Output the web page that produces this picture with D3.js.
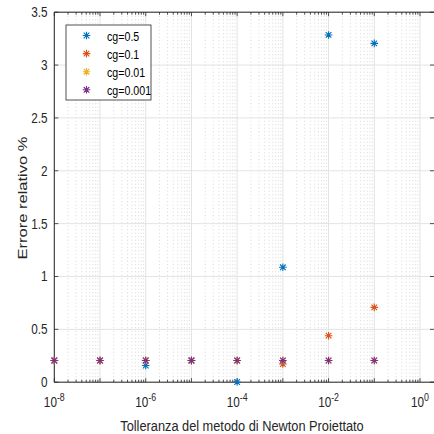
<!DOCTYPE html>
<html>
<head>
<meta charset="utf-8">
<script src="https://cdn.jsdelivr.net/npm/d3@7"></script>
<style>
  html, body { margin: 0; padding: 0; background: #fff; }
  svg { display: block; font-family: "Liberation Sans", Arial, Helvetica, sans-serif; }
</style>
</head>
<body>
<svg id="chart" width="434" height="434"></svg>
<script>
// ---- data ----
const tolerances = [1e-8, 1e-7, 1e-6, 1e-5, 1e-4, 1e-3, 1e-2, 1e-1];
const seriesNames = ["cg=0.5", "cg=0.1", "cg=0.01", "cg=0.001"];
const cg05   = [0.205, 0.205, 0.158, 0.205, 0.002, 1.087, 3.285, 3.205];
const cg01   = [0.205, 0.205, 0.205, 0.205, 0.205, 0.172, 0.440, 0.708];
const cg001  = [0.205, 0.205, 0.205, 0.205, 0.205, 0.205, 0.205, 0.205];
const cg0001 = [0.205, 0.205, 0.205, 0.205, 0.205, 0.205, 0.205, 0.205];
const seriesColors = ["#0072BD", "#D95319", "#EDB120", "#7E2F8E"];
const xTickExps = [-8, -6, -4, -2, 0];
const yTicks = [0, 0.5, 1, 1.5, 2, 2.5, 3, 3.5];
const xLabel = "Tolleranza del metodo di Newton Proiettato";
const yLabel = "Errore relativo %";

const allSeries = [cg05, cg01, cg001, cg0001];

// ---- layout ----
const L = 54.3, R = 420, T = 12.2, B = 382.2, frameRight = 434;
const svg = d3.select("#chart");
const x = d3.scaleLog().domain([1e-8, 1]).range([L, R]);
const y = d3.scaleLinear().domain([0, 3.5]).range([B, T]);
const axisColor = "#262626";
const kx = 0.84; // horizontal squash of text

// grid: minor vertical (dotted)
const minorX = [];
for (let e = -8; e < 0; e++) for (let m = 2; m <= 9; m++) minorX.push(m * Math.pow(10, e));
const g = svg.append("g");
g.selectAll("line.minor").data(minorX).enter().append("line")
  .attr("x1", d => x(d)).attr("x2", d => x(d)).attr("y1", T).attr("y2", B)
  .attr("stroke", "#bdbdbd").attr("stroke-width", 0.6).attr("stroke-dasharray", "1,2.5");
// major grid
g.selectAll("line.majx").data(d3.range(-8, 1)).enter().append("line")
  .attr("x1", d => x(Math.pow(10, d))).attr("x2", d => x(Math.pow(10, d))).attr("y1", T).attr("y2", B)
  .attr("stroke", "#e3e3e3").attr("stroke-width", 1);
g.selectAll("line.majy").data(yTicks).enter().append("line")
  .attr("x1", L).attr("x2", frameRight).attr("y1", d => y(d)).attr("y2", d => y(d))
  .attr("stroke", "#e3e3e3").attr("stroke-width", 1);

// frame
svg.append("line").attr("x1", L).attr("x2", frameRight).attr("y1", B).attr("y2", B).attr("stroke", axisColor);
svg.append("line").attr("x1", L).attr("x2", frameRight).attr("y1", T).attr("y2", T).attr("stroke", axisColor);
svg.append("line").attr("x1", L).attr("x2", L).attr("y1", T).attr("y2", B).attr("stroke", axisColor);

// x ticks (bottom & top), inward
const majorX = d3.range(-8, 1).map(e => Math.pow(10, e));
[[B, -1], [T, 1]].forEach(([yy, dir]) => {
  svg.selectAll(null).data(majorX).enter().append("line")
    .attr("x1", d => x(d)).attr("x2", d => x(d)).attr("y1", yy).attr("y2", yy + dir * 4)
    .attr("stroke", axisColor).attr("stroke-width", 0.8);
  svg.selectAll(null).data(minorX).enter().append("line")
    .attr("x1", d => x(d)).attr("x2", d => x(d)).attr("y1", yy).attr("y2", yy + dir * 2.5)
    .attr("stroke", axisColor).attr("stroke-width", 0.8);
});
// y ticks (left & right), inward
svg.selectAll(null).data(yTicks).enter().append("line")
  .attr("x1", L).attr("x2", L + 4).attr("y1", d => y(d)).attr("y2", d => y(d))
  .attr("stroke", axisColor).attr("stroke-width", 0.8);
svg.selectAll(null).data(yTicks).enter().append("line")
  .attr("x1", frameRight - 4).attr("x2", frameRight).attr("y1", d => y(d)).attr("y2", d => y(d))
  .attr("stroke", axisColor).attr("stroke-width", 0.8);

// x tick labels
const xl = svg.selectAll(null).data(xTickExps).enter().append("text")
  .attr("transform", d => `translate(${x(Math.pow(10, d))},407) scale(${kx},1)`)
  .attr("text-anchor", "middle").attr("font-size", 14).attr("fill", axisColor);
xl.append("tspan").text("10");
xl.append("tspan").attr("dy", -6).attr("font-size", 10.5).text(d => d);

// y tick labels
svg.selectAll(null).data(yTicks).enter().append("text")
  .attr("transform", d => `translate(47.5,${y(d) + 5}) scale(${kx},1)`)
  .attr("text-anchor", "end").attr("font-size", 14).attr("fill", axisColor)
  .text(d => d);

// axis labels
svg.append("text").attr("transform", `translate(242,431) scale(0.825,1)`).attr("text-anchor", "middle")
  .attr("font-size", 15.5).attr("fill", axisColor).text(xLabel);
svg.append("text").attr("transform", "translate(26.5,198) rotate(-90) scale(1,0.8)").attr("text-anchor", "middle")
  .attr("font-size", 16.5).attr("fill", axisColor).text(yLabel);

// asterisk marker
const s = 3.8, dd = 2.8;
const star = `M${-s},0L${s},0M0,${-s}L0,${s}M${-dd},${-dd}L${dd},${dd}M${-dd},${dd}L${dd},${-dd}`;

allSeries.forEach((vals, i) => {
  svg.append("g").selectAll("path").data(vals).enter().append("path")
    .attr("d", star)
    .attr("transform", (d, j) => `translate(${x(tolerances[j])},${y(d)})`)
    .attr("stroke", seriesColors[i]).attr("stroke-width", 1.1).attr("fill", "none");
});

// legend
const lg = svg.append("g");
lg.append("rect").attr("x", 66).attr("y", 25).attr("width", 85).attr("height", 75)
  .attr("fill", "#fff").attr("stroke", axisColor).attr("stroke-width", 0.8);
seriesNames.forEach((name, i) => {
  const yy = 35.5 + i * 18.1;
  lg.append("path").attr("d", star).attr("transform", `translate(86.5,${yy})`)
    .attr("stroke", seriesColors[i]).attr("stroke-width", 1.1).attr("fill", "none");
  lg.append("text").attr("transform", `translate(107,${yy + 5}) scale(0.82,1)`)
    .attr("font-size", 13).attr("fill", "#000").text(name);
});
</script>
</body>
</html>
